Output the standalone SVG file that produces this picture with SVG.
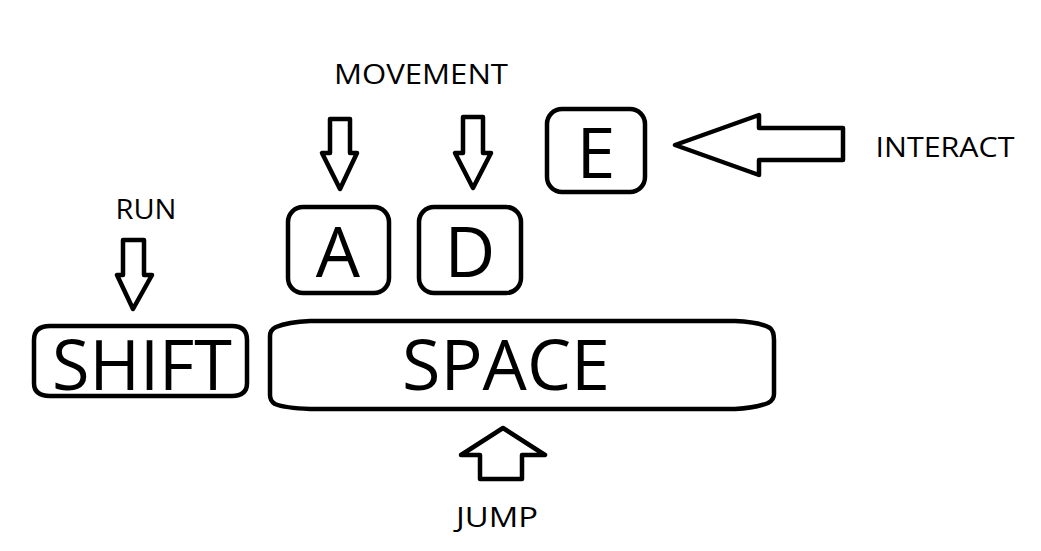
<svg xmlns="http://www.w3.org/2000/svg" width="1041" height="551" viewBox="0 0 1041 551">
<style>
.key{fill:#fff;stroke:#000;stroke-width:4.5;stroke-linejoin:round}
.arr{fill:#fff;stroke:#000;stroke-width:4.5;stroke-linejoin:round}
.big{font-family:"Open Sans","Liberation Sans",sans-serif;font-size:70px;fill:#000;text-anchor:middle}
.lbl{font-family:"Open Sans","Liberation Sans",sans-serif;font-size:27px;fill:#000;text-anchor:middle}
</style>
<rect width="1041" height="551" fill="#fff"/>
<g id="label-movement"><text class="lbl" x="421" y="84" textLength="174" lengthAdjust="spacingAndGlyphs">MOVEMENT</text></g>
<g id="label-run"><text class="lbl" x="146" y="219" textLength="61" lengthAdjust="spacingAndGlyphs">RUN</text></g>
<g id="label-interact"><text class="lbl" x="945" y="157" textLength="139" lengthAdjust="spacingAndGlyphs">INTERACT</text></g>
<g id="label-jump"><text class="lbl" x="497" y="527" textLength="82" lengthAdjust="spacingAndGlyphs">JUMP</text></g>
<g id="key-e"><rect class="key" x="547" y="109" width="98" height="83" rx="15"/><text class="big" x="596" y="178">E</text></g>
<g id="key-a"><rect class="key" x="288" y="207" width="101" height="86" rx="15"/><text class="big" x="338" y="277">A</text></g>
<g id="key-d"><rect class="key" x="419" y="207" width="102" height="86" rx="15"/><text class="big" x="470" y="277">D</text></g>
<g id="key-shift"><path class="key" d="M50 326 L232 326 Q247 326 247 340 L247 383 Q247 396 232 396 L50 396 Q34 396 34 383 L34 340 Q34 326 50 326 Z"/><text class="big" x="142" y="390" textLength="180" lengthAdjust="spacingAndGlyphs">SHIFT</text></g>
<g id="key-space"><path class="key" d="M310 321 L735 321 Q760 322 770 328 Q774 331 774 340 L774 394 Q774 400 768 403 Q755 408 735 409 L310 409 Q285 408 275 404 Q270 401 270 395 L270 336 Q270 330 276 327 Q288 322 310 321 Z"/><text class="big" x="506" y="390" textLength="208" lengthAdjust="spacingAndGlyphs">SPACE</text></g>
<g id="connectors">
<polygon class="arr" points="330,119 350,119 350,153 357,153 340,189 322,153 330,153"/>
<polygon class="arr" points="463,117 483,117 483,153 491,153 473,188 455,153 463,153"/>
<polygon class="arr" points="123,240 144,240 144,275 152,275 133,309 117,275 123,275"/>
<polygon class="arr" points="843,128 843,160 759,160 759,175 675,145 759,115 759,128"/>
<polygon class="arr" points="503,428 545,455 522,455 522,479 480,479 480,455 461,455"/>
</g>
</svg>
